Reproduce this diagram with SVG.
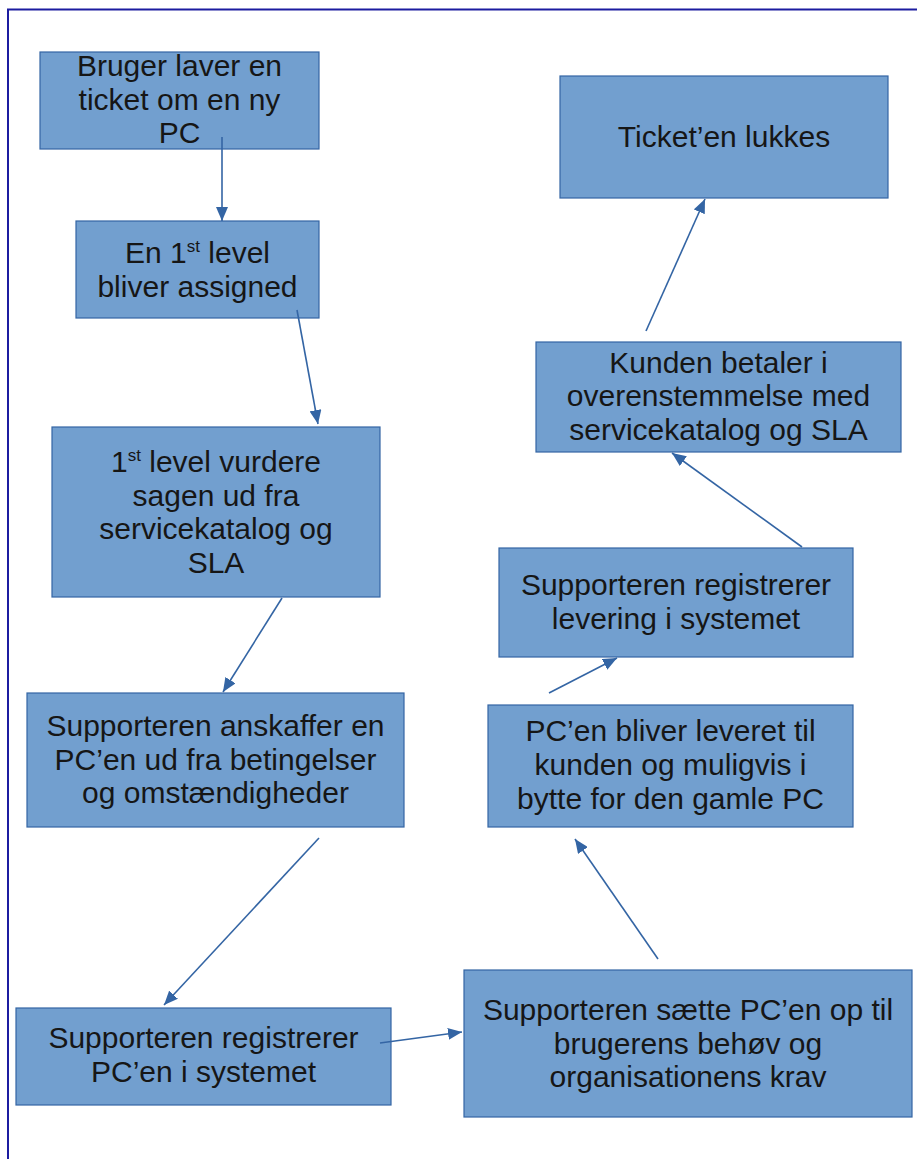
<svg xmlns="http://www.w3.org/2000/svg" width="917" height="1159" viewBox="0 0 917 1159">
<defs>
<style>
.box{fill:#729fcf;stroke:#3465a4;stroke-width:1.2}
.t{font-family:"Liberation Sans",Arial,sans-serif;font-size:30px;fill:#161616;text-anchor:middle}
.sup{font-size:17px}
.c{stroke:#3465a4;stroke-width:1.6;fill:none;marker-end:url(#ah)}
</style>
<marker id="ah" markerUnits="userSpaceOnUse" markerWidth="14" markerHeight="12" refX="14" refY="6" orient="auto">
<path d="M0,0 L14,6 L0,12 z" fill="#3465a4"/>
</marker>
</defs>
<rect width="917" height="1159" fill="#ffffff"/>
<path d="M8,1159 L8,9.5 L917,9.5" fill="none" stroke="#1c1ca0" stroke-width="2"/>

<g id="n1"><rect class="box" x="40" y="52" width="279" height="97"/>
<text class="t"><tspan x="179.5" y="76">Bruger laver en</tspan><tspan x="179.5" y="110">ticket om en ny</tspan><tspan x="179.5" y="143">PC</tspan></text></g>

<g id="n2"><rect class="box" x="76" y="221" width="243" height="97"/>
<text class="t"><tspan x="197.5" y="263">En 1<tspan class="sup" dy="-11">st</tspan><tspan dy="11"> level</tspan></tspan><tspan x="197.5" y="297">bliver assigned</tspan></text></g>

<g id="n3"><rect class="box" x="52" y="427" width="328" height="170"/>
<text class="t"><tspan x="216" y="472">1<tspan class="sup" dy="-11">st</tspan><tspan dy="11"> level vurdere</tspan></tspan><tspan x="216" y="506">sagen ud fra</tspan><tspan x="216" y="539">servicekatalog og</tspan><tspan x="216" y="573">SLA</tspan></text></g>

<g id="n4"><rect class="box" x="27" y="693" width="377" height="134"/>
<text class="t"><tspan x="215.5" y="736">Supporteren anskaffer en</tspan><tspan x="215.5" y="770">PC’en ud fra betingelser</tspan><tspan x="215.5" y="803">og omstændigheder</tspan></text></g>

<g id="n5"><rect class="box" x="16" y="1008" width="375" height="97"/>
<text class="t"><tspan x="203.5" y="1048">Supporteren registrerer</tspan><tspan x="203.5" y="1082">PC’en i systemet</tspan></text></g>

<g id="n6"><rect class="box" x="464" y="970" width="448" height="147"/>
<text class="t"><tspan x="688" y="1020">Supporteren sætte PC’en op til</tspan><tspan x="688" y="1054">brugerens behøv og</tspan><tspan x="688" y="1087">organisationens krav</tspan></text></g>

<g id="n7"><rect class="box" x="488" y="705" width="365" height="122"/>
<text class="t"><tspan x="670.5" y="741">PC’en bliver leveret til</tspan><tspan x="670.5" y="775">kunden og muligvis i</tspan><tspan x="670.5" y="809">bytte for den gamle PC</tspan></text></g>

<g id="n8"><rect class="box" x="499" y="548" width="354" height="109"/>
<text class="t"><tspan x="676" y="595">Supporteren registrerer</tspan><tspan x="676" y="629">levering i systemet</tspan></text></g>

<g id="n9"><rect class="box" x="536" y="342" width="365" height="110"/>
<text class="t"><tspan x="718.5" y="373">Kunden betaler i</tspan><tspan x="718.5" y="406">overenstemmelse med</tspan><tspan x="718.5" y="440">servicekatalog og SLA</tspan></text></g>

<g id="n10"><rect class="box" x="560" y="76" width="328" height="122"/>
<text class="t"><tspan x="724" y="147">Ticket’en lukkes</tspan></text></g>

<g id="connectors">
<line class="c" x1="222" y1="137" x2="222" y2="221"/>
<line class="c" x1="297" y1="310" x2="318" y2="424"/>
<line class="c" x1="282" y1="598" x2="223" y2="692"/>
<line class="c" x1="319" y1="838" x2="164" y2="1005"/>
<line class="c" x1="380" y1="1043" x2="462" y2="1032"/>
<line class="c" x1="658" y1="959" x2="575" y2="839"/>
<line class="c" x1="549" y1="693" x2="617" y2="658"/>
<line class="c" x1="802" y1="547" x2="672" y2="453"/>
<line class="c" x1="646" y1="331" x2="705" y2="199"/>
</g>
</svg>
